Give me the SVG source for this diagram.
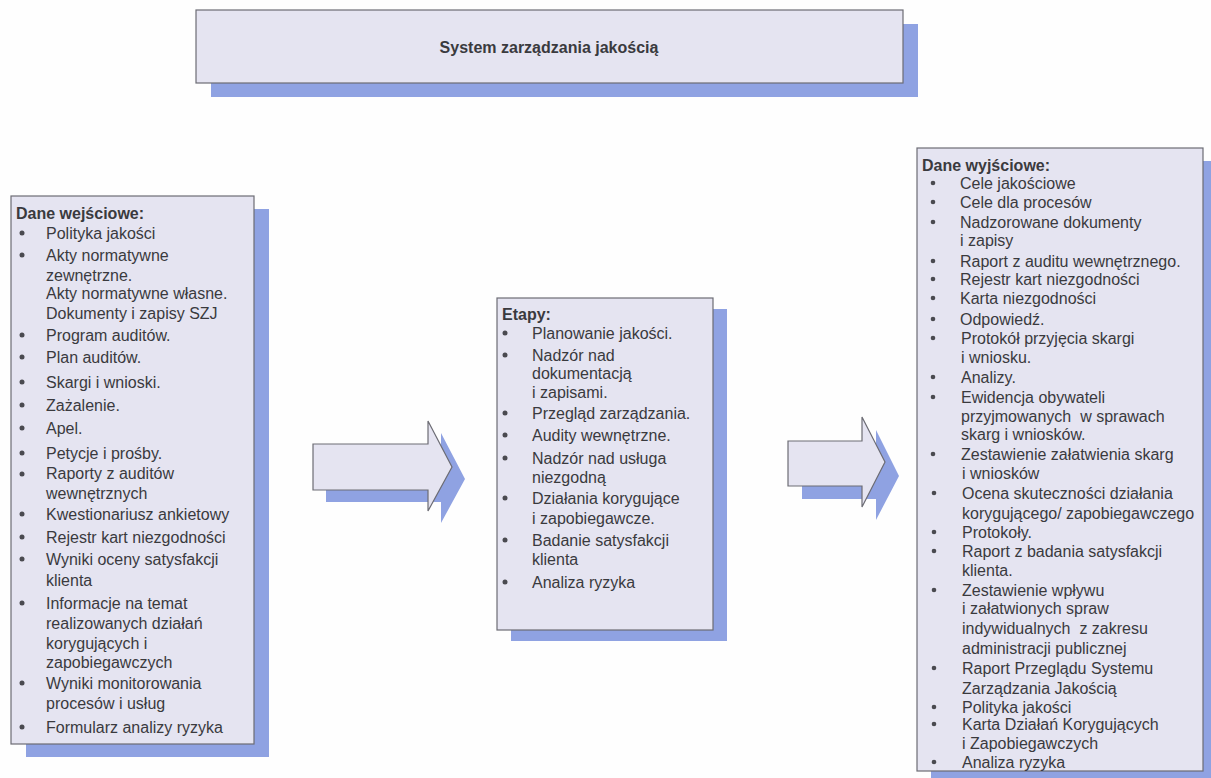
<svg xmlns="http://www.w3.org/2000/svg" width="1211" height="778" viewBox="0 0 1211 778">
  <style>
    .shadow { fill: #8fa2e2; }
    .box { fill: #e5e4f1; stroke: #6c6c74; stroke-width: 1.2; }
    .t { font-family: "Liberation Sans", Arial, sans-serif; font-size: 16px; fill: #3a3a3e; }
    .h { font-family: "Liberation Sans", Arial, sans-serif; font-size: 16px; font-weight: bold; fill: #3a3a3e; }
    .b { fill: #4a4a50; }
  </style>
  <rect x="0" y="0" width="1211" height="778" fill="#fefefe"/>

  <!-- title -->
  <g id="title">
    <rect class="shadow" x="211" y="24" width="707" height="73"/>
    <rect class="box" x="196" y="10" width="707" height="73"/>
    <text class="h" x="549" y="53" text-anchor="middle">System zarządzania jakością</text>
  </g>

  <!-- inputs -->
  <g id="inputs">
    <rect class="shadow" x="26" y="209" width="243" height="548"/>
    <rect class="box" x="11" y="196" width="243" height="548"/>
    <text class="h" x="16" y="219">Dane wejściowe:</text>
    <g class="b">
      <circle cx="22" cy="233" r="2.5"/>
      <circle cx="22" cy="255" r="2.5"/>
      <circle cx="22" cy="335" r="2.5"/>
      <circle cx="22" cy="357" r="2.5"/>
      <circle cx="22" cy="382" r="2.5"/>
      <circle cx="22" cy="405" r="2.5"/>
      <circle cx="22" cy="428" r="2.5"/>
      <circle cx="22" cy="453" r="2.5"/>
      <circle cx="22" cy="474" r="2.5"/>
      <circle cx="22" cy="514" r="2.5"/>
      <circle cx="22" cy="537" r="2.5"/>
      <circle cx="22" cy="559" r="2.5"/>
      <circle cx="22" cy="603" r="2.5"/>
      <circle cx="22" cy="683" r="2.5"/>
      <circle cx="22" cy="727" r="2.5"/>
    </g>
    <text class="t" x="46" y="239">Polityka jakości</text>
    <text class="t" x="46" y="261">Akty normatywne</text>
    <text class="t" x="46" y="281">zewnętrzne.</text>
    <text class="t" x="46" y="299">Akty normatywne własne.</text>
    <text class="t" x="46" y="319">Dokumenty i zapisy SZJ</text>
    <text class="t" x="46" y="341">Program auditów.</text>
    <text class="t" x="46" y="363">Plan auditów.</text>
    <text class="t" x="46" y="388">Skargi i wnioski.</text>
    <text class="t" x="46" y="411">Zażalenie.</text>
    <text class="t" x="46" y="434">Apel.</text>
    <text class="t" x="46" y="459">Petycje i prośby.</text>
    <text class="t" x="46" y="479">Raporty z auditów</text>
    <text class="t" x="46" y="499">wewnętrznych</text>
    <text class="t" x="46" y="520">Kwestionariusz ankietowy</text>
    <text class="t" x="46" y="543">Rejestr kart niezgodności</text>
    <text class="t" x="46" y="565">Wyniki oceny satysfakcji</text>
    <text class="t" x="46" y="586">klienta</text>
    <text class="t" x="46" y="609">Informacje na temat</text>
    <text class="t" x="46" y="629">realizowanych działań</text>
    <text class="t" x="46" y="649">korygujących i</text>
    <text class="t" x="46" y="668">zapobiegawczych</text>
    <text class="t" x="46" y="689">Wyniki monitorowania</text>
    <text class="t" x="46" y="709">procesów i usług</text>
    <text class="t" x="46" y="733">Formularz analizy ryzyka</text>
  </g>

  <!-- stages -->
  <g id="stages">
    <rect class="shadow" x="511" y="309" width="216" height="332"/>
    <rect class="box" x="497" y="298" width="216" height="332"/>
    <text class="h" x="502" y="320">Etapy:</text>
    <g class="b">
      <circle cx="505" cy="333" r="2.5"/>
      <circle cx="505" cy="355" r="2.5"/>
      <circle cx="505" cy="413" r="2.5"/>
      <circle cx="505" cy="435" r="2.5"/>
      <circle cx="505" cy="458" r="2.5"/>
      <circle cx="505" cy="498" r="2.5"/>
      <circle cx="505" cy="540" r="2.5"/>
      <circle cx="505" cy="582" r="2.5"/>
    </g>
    <text class="t" x="532" y="339">Planowanie jakości.</text>
    <text class="t" x="532" y="361">Nadzór nad</text>
    <text class="t" x="532" y="379">dokumentacją</text>
    <text class="t" x="532" y="398">i zapisami.</text>
    <text class="t" x="532" y="419">Przegląd zarządzania.</text>
    <text class="t" x="532" y="441">Audity wewnętrzne.</text>
    <text class="t" x="532" y="464">Nadzór nad usługa</text>
    <text class="t" x="532" y="483">niezgodną</text>
    <text class="t" x="532" y="504">Działania korygujące</text>
    <text class="t" x="532" y="524">i zapobiegawcze.</text>
    <text class="t" x="532" y="546">Badanie satysfakcji</text>
    <text class="t" x="532" y="565">klienta</text>
    <text class="t" x="532" y="588">Analiza ryzyka</text>
  </g>

  <!-- outputs -->
  <g id="outputs">
    <rect class="shadow" x="931" y="161" width="286" height="623"/>
    <rect class="box" x="917" y="148" width="286" height="623"/>
    <text class="h" x="922" y="171">Dane wyjściowe:</text>
    <g class="b">
      <circle cx="933" cy="183" r="2.3"/>
      <circle cx="933" cy="202" r="2.3"/>
      <circle cx="933" cy="222" r="2.3"/>
      <circle cx="933" cy="261" r="2.3"/>
      <circle cx="933" cy="279" r="2.3"/>
      <circle cx="933" cy="298" r="2.3"/>
      <circle cx="933" cy="319" r="2.3"/>
      <circle cx="933" cy="338" r="2.3"/>
      <circle cx="933" cy="377" r="2.3"/>
      <circle cx="933" cy="397" r="2.3"/>
      <circle cx="933" cy="454" r="2.3"/>
      <circle cx="934" cy="493" r="2.3"/>
      <circle cx="934" cy="532" r="2.3"/>
      <circle cx="934" cy="551" r="2.3"/>
      <circle cx="934" cy="590" r="2.3"/>
      <circle cx="934" cy="668" r="2.3"/>
      <circle cx="934" cy="707" r="2.3"/>
      <circle cx="934" cy="724" r="2.3"/>
      <circle cx="934" cy="762" r="2.3"/>
    </g>
    <text class="t" x="960" y="189">Cele jakościowe</text>
    <text class="t" x="960" y="208">Cele dla procesów</text>
    <text class="t" x="960" y="228">Nadzorowane dokumenty</text>
    <text class="t" x="960" y="246">i zapisy</text>
    <text class="t" x="960" y="267">Raport z auditu wewnętrznego.</text>
    <text class="t" x="960" y="285">Rejestr kart niezgodności</text>
    <text class="t" x="960" y="304">Karta niezgodności</text>
    <text class="t" x="960" y="325">Odpowiedź.</text>
    <text class="t" x="961" y="344">Protokół przyjęcia skargi</text>
    <text class="t" x="961" y="363">i wniosku.</text>
    <text class="t" x="961" y="383">Analizy.</text>
    <text class="t" x="961" y="403">Ewidencja obywateli</text>
    <text class="t" x="961" y="422" xml:space="preserve">przyjmowanych  w sprawach</text>
    <text class="t" x="961" y="440">skarg i wniosków.</text>
    <text class="t" x="961" y="460">Zestawienie załatwienia skarg</text>
    <text class="t" x="962" y="479">i wniosków</text>
    <text class="t" x="962" y="499">Ocena skuteczności działania</text>
    <text class="t" x="962" y="519">korygującego/ zapobiegawczego</text>
    <text class="t" x="962" y="538">Protokoły.</text>
    <text class="t" x="962" y="557">Raport z badania satysfakcji</text>
    <text class="t" x="962" y="576">klienta.</text>
    <text class="t" x="962" y="596">Zestawienie wpływu</text>
    <text class="t" x="962" y="614">i załatwionych spraw</text>
    <text class="t" x="962" y="634" xml:space="preserve">indywidualnych  z zakresu</text>
    <text class="t" x="962" y="654">administracji publicznej</text>
    <text class="t" x="962" y="674">Raport Przeglądu Systemu</text>
    <text class="t" x="962" y="694">Zarządzania Jakością</text>
    <text class="t" x="962" y="713">Polityka jakości</text>
    <text class="t" x="962" y="730">Karta Działań Korygujących</text>
    <text class="t" x="962" y="749">i Zapobiegawczych</text>
    <text class="t" x="962" y="768">Analiza ryzyka</text>
  </g>

  <!-- connectors: block arrows between the stages -->
  <g id="connectors">
    <path class="shadow" d="M326,456 H441 V433 L465,479 L441,523 V502 H326 Z"/>
    <path class="box" d="M313,444 H428 V421 L452,467 L428,511 V490 H313 Z"/>
    <path class="shadow" d="M802,454 H876 V430 L899,476 L876,520 V499 H802 Z"/>
    <path class="box" d="M788,441 H862 V417 L885,462 L862,507 V486 H788 Z"/>
  </g>
</svg>
